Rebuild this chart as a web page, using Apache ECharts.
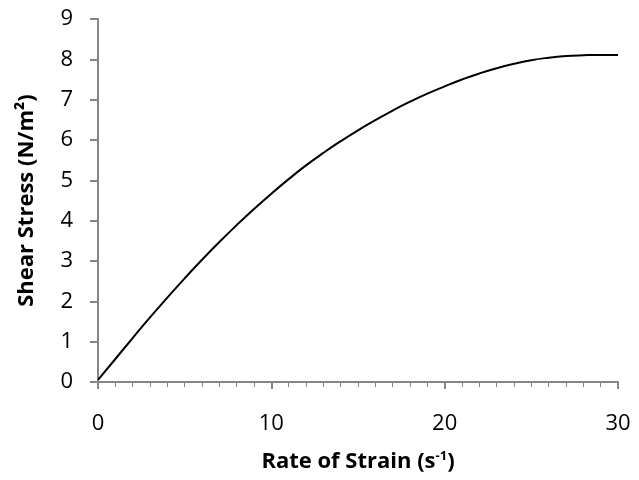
<!DOCTYPE html>
<html>
<head>
<meta charset="utf-8">
<script src="https://cdn.jsdelivr.net/npm/echarts@6/dist/echarts.min.js"></script>
<style>
  html, body { margin: 0; padding: 0; background: #fff; }
  #chart { width: 639px; height: 480px; }
</style>
</head>
<body>
<div id="chart"></div>
<script>
// rate of strain (1/s) and shear stress (N/m2)
var strainRate = [0, 1, 2, 3, 4, 5, 6, 7, 8, 9, 10, 11, 12, 13, 14, 15,
                  16, 17, 18, 19, 20, 21, 22, 23, 24, 25, 26, 27, 28, 29, 30];
var shearStress = [0.05, 0.57, 1.09, 1.60, 2.09, 2.57, 3.03, 3.47, 3.89, 4.29, 4.67,
                   5.03, 5.37, 5.68, 5.97, 6.24, 6.49, 6.73, 6.95, 7.15, 7.33,
                   7.50, 7.65, 7.78, 7.89, 7.98, 8.04, 8.08, 8.10, 8.11, 8.11];
var xTicks = [0, 10, 20, 30];
var yTicks = [0, 1, 2, 3, 4, 5, 6, 7, 8, 9];

var font = '"Open Sans", Lato, sans-serif';
var axisGrey = '#868686';

var points = [];
for (var i = 0; i < strainRate.length; i++) {
	points.push([strainRate[i], shearStress[i]]);
}

var myChart = echarts.init(document.getElementById('chart'), null, { renderer: 'canvas' });
var option = {
	backgroundColor: '#fff',
	animation: false,
	grid: { left: 98, right: 21, top: 19, bottom: 98, containLabel: false },
	xAxis: {
		type: 'value',
		min: xTicks[0],
		max: xTicks[xTicks.length - 1],
		interval: 10,
		name: 'Rate of Strain (s{sup|-1})',
		nameLocation: 'middle',
		nameGap: 68,
		nameTextStyle: {
			fontFamily: font, fontSize: 22, fontWeight: 'bold', color: '#000',
			rich: {
				sup: { fontFamily: font, fontSize: 13, fontWeight: 'bold', color: '#000', verticalAlign: 'top', padding: [0, 0, 10, 0] }
			}
		},
		axisLine: { show: true, lineStyle: { color: axisGrey, width: 2 } },
		axisTick: { show: true, inside: false, length: 7, lineStyle: { color: axisGrey, width: 2 } },
		minorTick: { show: true, splitNumber: 10, length: 5, lineStyle: { color: axisGrey, width: 1 } },
		splitLine: { show: false },
		axisLabel: { margin: 31, fontFamily: font, fontSize: 22, color: '#000' }
	},
	yAxis: {
		type: 'value',
		min: yTicks[0],
		max: yTicks[yTicks.length - 1],
		interval: 1,
		name: 'Shear Stress (N/m²)',
		nameLocation: 'middle',
		nameGap: 60,
		nameTextStyle: { fontFamily: font, fontSize: 22, fontWeight: 'bold', color: '#000' },
		axisLine: { show: true, lineStyle: { color: axisGrey, width: 2 } },
		axisTick: { show: true, inside: false, length: 8, lineStyle: { color: axisGrey, width: 2 } },
		splitLine: { show: false },
		axisLabel: { margin: 25, fontFamily: font, fontSize: 22, color: '#000' }
	},
	series: [
		{
			type: 'line',
			data: points,
			smooth: true,
			showSymbol: false,
			lineStyle: { color: '#000', width: 2 }
		}
	]
};
myChart.setOption(option, true);
</script>
</body>
</html>
